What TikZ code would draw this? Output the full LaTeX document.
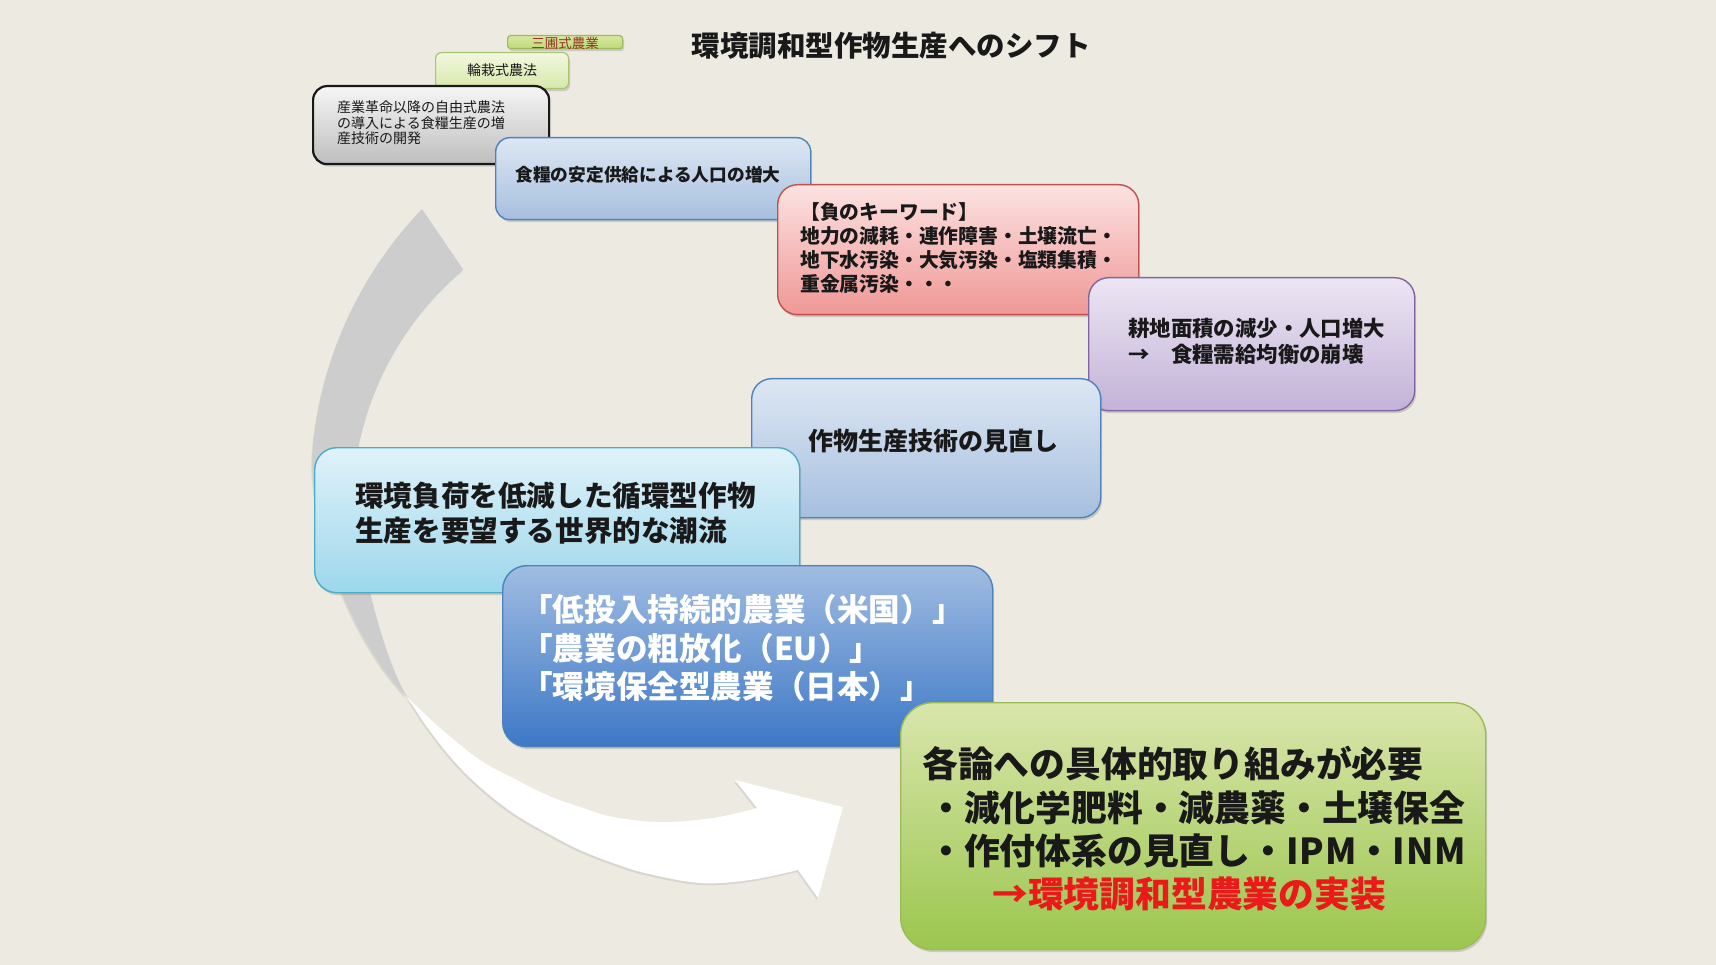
\documentclass[tikz,border=0pt]{standalone}
\usepackage{fontspec}
\setmainfont{Noto Sans CJK JP}
\usetikzlibrary{shadows}
\definecolor{bg}{RGB}{237,234,225}
\definecolor{arrowgray}{RGB}{205,205,205}
\definecolor{grnline}{RGB}{155,187,89}
\definecolor{sanTop}{RGB}{214,232,160}
\definecolor{sanBot}{RGB}{190,218,120}
\definecolor{sanTxt}{RGB}{150,50,40}
\definecolor{rinTop}{RGB}{242,247,224}
\definecolor{rinBot}{RGB}{214,233,170}
\definecolor{grayTop}{RGB}{246,246,246}
\definecolor{grayBot}{RGB}{190,190,190}
\definecolor{blueline}{RGB}{79,129,189}
\definecolor{bTop}{RGB}{221,231,243}
\definecolor{bBot}{RGB}{166,191,223}
\definecolor{pinkline}{RGB}{192,80,77}
\definecolor{pTop}{RGB}{252,226,226}
\definecolor{pBot}{RGB}{239,152,150}
\definecolor{purline}{RGB}{128,100,162}
\definecolor{uTop}{RGB}{236,230,243}
\definecolor{uBot}{RGB}{195,178,216}
\definecolor{cyanline}{RGB}{75,172,198}
\definecolor{cTop}{RGB}{224,242,250}
\definecolor{cBot}{RGB}{157,215,235}
\definecolor{dTop}{RGB}{160,188,226}
\definecolor{dBot}{RGB}{61,120,198}
\definecolor{gTop}{RGB}{217,230,172}
\definecolor{gBot}{RGB}{155,198,78}
\definecolor{redtxt}{RGB}{235,25,25}
\tikzset{
  rbox/.style={anchor=north west, inner sep=0pt, line width=1.4pt,
    drop shadow={shadow xshift=1.5pt, shadow yshift=-2.5pt, opacity=0.3}},
  txt/.style={inner sep=0pt, text=black!90},
  arrowpart/.style={drop shadow={shadow xshift=-1pt, shadow yshift=-2pt, opacity=0.18}},
}
\begin{document}
\begin{tikzpicture}[x=1pt,y=-1pt]
\fill[bg] (0,0) rectangle (1716,965);
\useasboundingbox (0,0) rectangle (1716,965);

% curved arrow: gray back part (top) and white front part (bottom), twisted at (408,698)
\fill[arrowgray, arrowpart]
  (422,209) arc[start angle=223.8, end angle=185.5, radius=398]
  .. controls (306,520) and (350,640) .. (408,698)
  .. controls (385,665) and (342,518) .. (360,440)
  arc[start angle=192.7, end angle=229.7, radius=314]
  -- cycle;
\fill[white, arrowpart]
  plot[smooth, tension=0.6] coordinates {(408,698) (427,727) (453,760) (480,787) (513,813) (547,833) (580,850) (613,863) (645,873) (700,883) (750,880) (798,870)}
  -- (818,898) -- (843,807) -- (735,780) -- (757,808)
  -- plot[smooth, tension=0.6] coordinates {(757,808) (713,818) (660,822) (613,817) (580,807) (547,795) (513,778) (480,760) (440,728) (408,698)}
  -- cycle;

\node[txt, font=\bfseries\fontsize{28.5}{30}\selectfont] (title) at (891,46) {環境調和型作物生産へのシフト};

\node[rbox, draw=grnline, line width=1.2pt, top color=sanTop, bottom color=sanBot, rounded corners=3pt, minimum width=115pt, minimum height=13pt] (sanpo) at (507,35) {};
\node[txt, text=sanTxt, font=\fontsize{13.5}{14}\selectfont] (tsanpo) at (565,43) {三圃式農業};

\node[rbox, draw=grnline!85, line width=1.2pt, top color=rinTop, bottom color=rinBot, rounded corners=6pt, minimum width=133pt, minimum height=36pt] (rinsai) at (435,52) {};
\node[txt, font=\fontsize{14}{15}\selectfont] (trinsai) at (502,70) {輪栽式農法};

\node[rbox, draw=black!90, line width=2.2pt, top color=grayTop, bottom color=grayBot, rounded corners=14pt, minimum width=236pt, minimum height=78pt] (gray) at (312,85) {};
\node[txt, anchor=west, align=left, font=\fontsize{14}{15.5}\selectfont] (tgray) at (337,123) {産業革命以降の自由式農法\\の導入による食糧生産の増\\産技術の開発};

\node[rbox, draw=blueline, top color=bTop, bottom color=bBot, rounded corners=14pt, minimum width=315pt, minimum height=82pt] (blueA) at (495,137) {};
\node[txt, font=\bfseries\fontsize{17.7}{19}\selectfont] (tblueA) at (648,175) {食糧の安定供給による人口の増大};

\node[rbox, draw=pinkline, top color=pTop, bottom color=pBot, rounded corners=20pt, minimum width=361pt, minimum height=130pt] (pink) at (777,184) {};
\node[txt, anchor=west, align=left, font=\bfseries\fontsize{19.8}{24}\selectfont] (tpink) at (800,248) {【負のキーワード】\\地力の減耗・連作障害・土壌流亡・\\地下水汚染・大気汚染・塩類集積・\\重金属汚染・・・};

\node[rbox, draw=purline, top color=uTop, bottom color=uBot, rounded corners=20pt, minimum width=326pt, minimum height=133pt] (purple) at (1088,277) {};
\node[txt, anchor=west, align=left, font=\bfseries\fontsize{21.4}{26}\selectfont] (tpurple) at (1128,341) {耕地面積の減少・人口増大\\→　食糧需給均衡の崩壊};

\node[rbox, draw=blueline, top color=bTop, bottom color=bBot, rounded corners=20pt, minimum width=349pt, minimum height=139pt] (blueB) at (751,378) {};
\node[txt, font=\bfseries\fontsize{25}{27}\selectfont] (tblueB) at (933,441) {作物生産技術の見直し};

\node[rbox, draw=cyanline, top color=cTop, bottom color=cBot, rounded corners=22pt, minimum width=485pt, minimum height=145pt] (cyan) at (314,447) {};
\node[txt, anchor=west, align=left, font=\bfseries\fontsize{28.6}{35}\selectfont] (tcyan) at (355,513) {環境負荷を低減した循環型作物\\生産を要望する世界的な潮流};

\node[rbox, draw=blueline, top color=dTop, bottom color=dBot, rounded corners=24pt, minimum width=490pt, minimum height=181pt] (blueC) at (502,565) {};
\node[txt, text=white, anchor=west, align=left, font=\bfseries\fontsize{31.6}{38.5}\selectfont] (tblueC) at (521,648) {「低投入持続的農業（米国）」\\「農業の粗放化（EU）」\\「環境保全型農業（日本）」};

\node[rbox, draw=grnline, top color=gTop, bottom color=gBot, rounded corners=32pt, minimum width=585pt, minimum height=247pt] (green) at (900,702) {};
\node[txt, anchor=west, align=left, font=\bfseries\fontsize{35.8}{43.3}\selectfont] (tgreen) at (922,829) {各論への具体的取り組みが必要\\\hspace*{6pt}・減化学肥料・減農薬・土壌保全\\\hspace*{6pt}・作付体系の見直し・I\kern1ptP\kern1ptM・I\kern1ptN\kern1ptM\\\hspace*{70pt}\textcolor{redtxt}{→環境調和型農業の実装}};
\end{tikzpicture}
\end{document}
